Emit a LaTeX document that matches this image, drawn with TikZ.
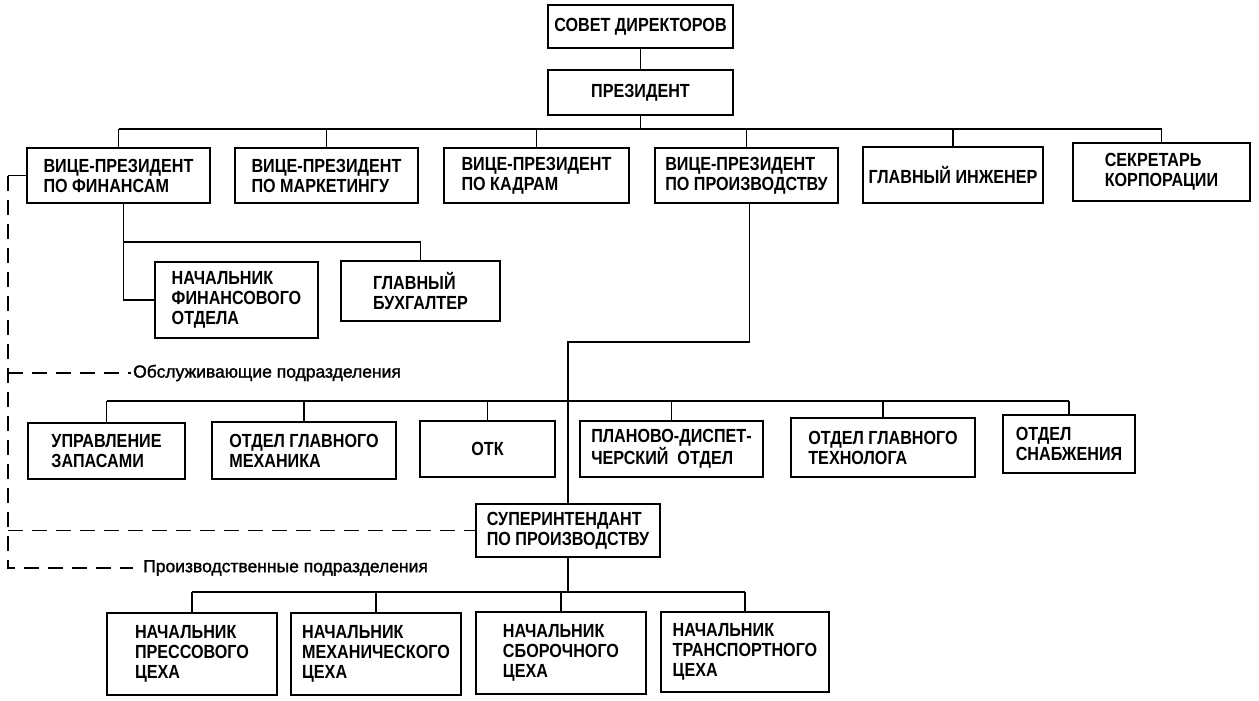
\documentclass[tikz,border=0pt]{standalone}
\usepackage{fontspec}
\setmainfont{Liberation Sans}[UprightFont={* Bold}, FakeStretch=0.85]
\newfontfamily\lblfont{Liberation Sans}[FakeBold=1.5]
\usepackage{tikz}
\usetikzlibrary{calc}
\tikzstyle{unit} = [rectangle, draw, line width=2pt, align=left, inner sep=0pt, font=\fontsize{19}{20}\selectfont]
\tikzstyle{conn} = [line width=1.3pt]
\tikzstyle{dashline} = [line width=1.3pt, dash pattern=on 15pt off 9pt]
\tikzstyle{grouplbl} = [anchor=west, inner sep=2pt, font=\lblfont\fontsize{17.5}{19}\selectfont]

\begin{document}
\begin{tikzpicture}[x=1pt, y=-1pt]
    \useasboundingbox (0,0) rectangle (1259,701);

    % top of the company
    \node [unit, minimum width=185, minimum height=43] (sovet) at (640.5,26.5) {СОВЕТ ДИРЕКТОРОВ};
    \node [unit, minimum width=185, minimum height=45] (pres) at (640.5,92.5) {ПРЕЗИДЕНТ};

    % vice-presidents
    \node [unit, minimum width=183, minimum height=55] (vpfin) at (118.5,175.5) {ВИЦЕ-ПРЕЗИДЕНТ\\ПО ФИНАНСАМ};
    \node [unit, minimum width=183, minimum height=55] (vpmkt) at (326.5,175.5) {ВИЦЕ-ПРЕЗИДЕНТ\\ПО МАРКЕТИНГУ};
    \node [unit, minimum width=185, minimum height=55] (vpkadr) at (536.5,175.5) {ВИЦЕ-ПРЕЗИДЕНТ\\ПО КАДРАМ};
    \node [unit, minimum width=183, minimum height=55] (vpprod) at (746.5,175.5) {ВИЦЕ-ПРЕЗИДЕНТ\\ПО ПРОИЗВОДСТВУ};
    \node [unit, minimum width=180, minimum height=56] (glinzh) at (953,175) {ГЛАВНЫЙ ИНЖЕНЕР};
    \node [unit, minimum width=177, minimum height=58] (sekr) at (1161.5,172) {СЕКРЕТАРЬ\\КОРПОРАЦИИ};

    % finance
    \node [unit, minimum width=163, minimum height=76] (nachfin) at (236.5,300) {НАЧАЛЬНИК\\ФИНАНСОВОГО\\ОТДЕЛА};
    \node [unit, minimum width=159, minimum height=60] (glbuh) at (420.5,291) {ГЛАВНЫЙ\\БУХГАЛТЕР};

    % service departments
    \node [unit, minimum width=157, minimum height=56] (upr) at (106.5,451) {УПРАВЛЕНИЕ\\ЗАПАСАМИ};
    \node [unit, minimum width=184, minimum height=57] (mekh) at (304,450.5) {ОТДЕЛ ГЛАВНОГО\\МЕХАНИКА};
    \node [unit, minimum width=135, minimum height=56] (otk) at (487.5,449) {ОТК};
    \node [unit, minimum width=183, minimum height=56] (plan) at (671.5,449) {ПЛАНОВО-ДИСПЕТ-\\ЧЕРСКИЙ\ \ ОТДЕЛ};
    \node [unit, minimum width=184, minimum height=59] (tech) at (883,447.5) {ОТДЕЛ ГЛАВНОГО\\ТЕХНОЛОГА};
    \node [unit, minimum width=132, minimum height=58] (snab) at (1069,444) {ОТДЕЛ\\СНАБЖЕНИЯ};

    % production
    \node [unit, minimum width=184, minimum height=53] (super) at (568,530.5) {СУПЕРИНТЕНДАНТ\\ПО ПРОИЗВОДСТВУ};
    \node [unit, minimum width=170, minimum height=82] (press) at (192,654) {НАЧАЛЬНИК\\ПРЕССОВОГО\\ЦЕХА};
    \node [unit, minimum width=170, minimum height=82] (mekhc) at (376,654) {НАЧАЛЬНИК\\МЕХАНИЧЕСКОГО\\ЦЕХА};
    \node [unit, minimum width=170, minimum height=82] (sbor) at (561,653) {НАЧАЛЬНИК\\СБОРОЧНОГО\\ЦЕХА};
    \node [unit, minimum width=168, minimum height=80] (transp) at (745,652) {НАЧАЛЬНИК\\ТРАНСПОРТНОГО\\ЦЕХА};

    % group labels
    \node [grouplbl] (servlbl) at (131,373) {Обслуживающие подразделения};
    \node [grouplbl] (prodlbl) at (141,568) {Производственные подразделения};

    % board -> president -> vice-presidents
    \draw [conn] (sovet.south) -- (pres.north);
    \draw [conn] (pres.south) -- ++(0,13) coordinate (topbus);
    \draw [conn] (topbus -| vpfin) -- (topbus -| sekr);
    \draw [conn] (topbus -| vpfin) -- (vpfin.north);
    \draw [conn] (topbus -| vpmkt) -- (vpmkt.north);
    \draw [conn] (topbus -| vpkadr) -- (vpkadr.north);
    \draw [conn] (topbus -| vpprod) -- (vpprod.north);
    \draw [conn] (topbus -| glinzh) -- (glinzh.north);
    \draw [conn] (topbus -| sekr) -- (sekr.north);

    % finance <-> its departments
    \draw [conn] ([xshift=5]vpfin.south) coordinate (finline) -- (finline |- nachfin.west) -- (nachfin.west);
    \draw [conn] (finline |- 0,242) -| (glbuh.north);

    % production vice-president -> superintendent
    \draw [conn] ([xshift=3]vpprod.south) -- ++(0,138) -| (super.north);

    % service bus
    \draw [conn] (upr.north |- 0,401) coordinate (servbus) -- (servbus -| snab.north);
    \draw [conn] (servbus -| upr) -- (upr.north);
    \draw [conn] (servbus -| mekh) -- (mekh.north);
    \draw [conn] (servbus -| otk) -- (otk.north);
    \draw [conn] (servbus -| plan) -- (plan.north);
    \draw [conn] (servbus -| tech) -- (tech.north);
    \draw [conn] (servbus -| snab) -- (snab.north);

    % superintendent -> shops
    \draw [conn] (super.south) -- ++(0,34) coordinate (shopbus);
    \draw [conn] (shopbus -| press) -- (shopbus -| transp);
    \draw [conn] (shopbus -| press) -- (press.north);
    \draw [conn] (shopbus -| mekhc) -- (mekhc.north);
    \draw [conn] (shopbus -| sbor) -- (sbor.north);
    \draw [conn] (shopbus -| transp) -- (transp.north);

    % dashed grouping lines
    \coordinate (lft) at (8,0);
    \draw [conn] (vpfin.west) -- (vpfin.west -| lft);
    \draw [dashline] (vpfin.west -| lft) -- (lft |- prodlbl) -- ([xshift=-8]prodlbl.west);
    \draw [dashline] (lft |- servlbl) -- (servlbl.west);
    \draw [dashline] (lft |- super) -- (super.west);
\end{tikzpicture}
\end{document}
